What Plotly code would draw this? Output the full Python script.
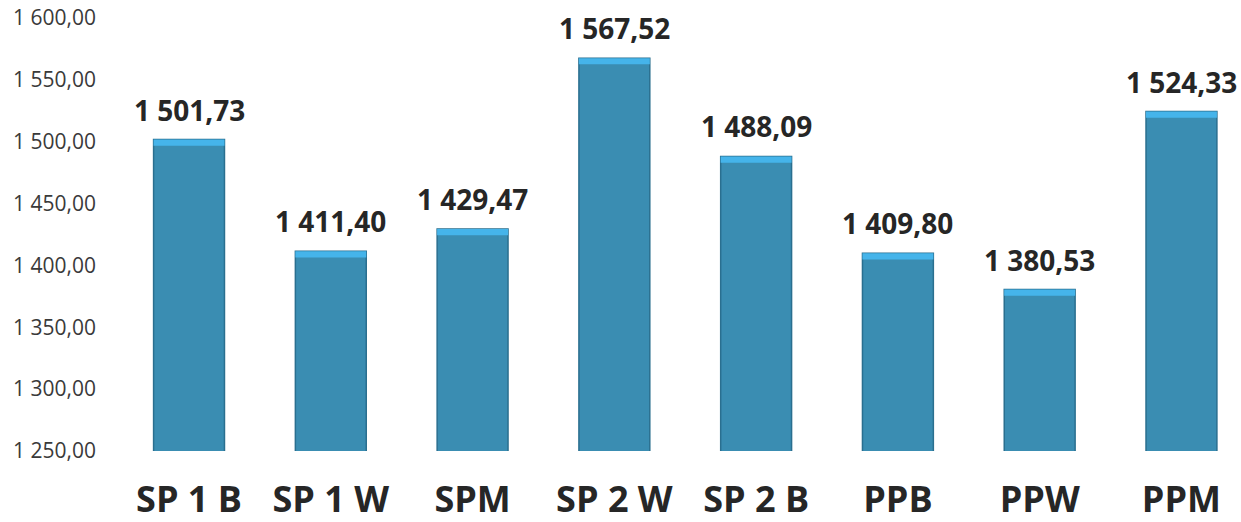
import plotly.graph_objects as go

categories = ["SP 1 B", "SP 1 W", "SPM", "SP 2 W", "SP 2 B", "PPB", "PPW", "PPM"]
values = [1501.73, 1411.40, 1429.47, 1567.52, 1488.09, 1409.80, 1380.53, 1524.33]
value_labels = ["1 501,73", "1 411,40", "1 429,47", "1 567,52", "1 488,09", "1 409,80", "1 380,53", "1 524,33"]
tick_values = [1250, 1300, 1350, 1400, 1450, 1500, 1550, 1600]
tick_labels = ["1 250,00", "1 300,00", "1 350,00", "1 400,00", "1 450,00", "1 500,00", "1 550,00", "1 600,00"]

x_idx = list(range(len(categories)))

fig = go.Figure()
fig.add_trace(go.Bar(
    x=x_idx, y=values, width=0.5,
    marker=dict(color="#3a8db2", line=dict(color="#2a6f8f", width=1.5)),
    hoverinfo="skip",
))
# light top cap
fig.add_trace(go.Bar(
    x=x_idx, y=[5] * len(values), base=[v - 5 for v in values], width=0.5,
    marker=dict(color="#45b4ea", line=dict(width=0)),
    hoverinfo="skip",
))

for i, (v, t) in enumerate(zip(values, value_labels)):
    fig.add_annotation(x=i, y=v, text=t, showarrow=False, yshift=30,
                       font=dict(family="Open Sans", size=28, color="#262626", weight="bold"))

fig.update_layout(
    width=1241, height=522,
    margin=dict(l=119, r=0, t=18, b=71),
    paper_bgcolor="white", plot_bgcolor="white",
    showlegend=False, barmode="overlay",
    xaxis=dict(
        range=[-0.494, 7.42], tickvals=x_idx, ticktext=categories,
        ticks="outside", ticklen=17, tickcolor="rgba(0,0,0,0)",
        tickfont=dict(family="Open Sans", size=36, color="#262626", weight="bold"),
        showgrid=False, zeroline=False, showline=False, automargin=False,
    ),
    yaxis=dict(
        range=[1250, 1600], tickvals=tick_values, ticktext=tick_labels,
        tickfont=dict(family="Open Sans", size=21, color="#3a3a3a"),
        ticklabelstandoff=22,
        showgrid=False, zeroline=False, showline=False, automargin=False,
    ),
)

fig.write_html("out.html", post_script="document.body.style.margin='0';",
               config={"displayModeBar": False})
